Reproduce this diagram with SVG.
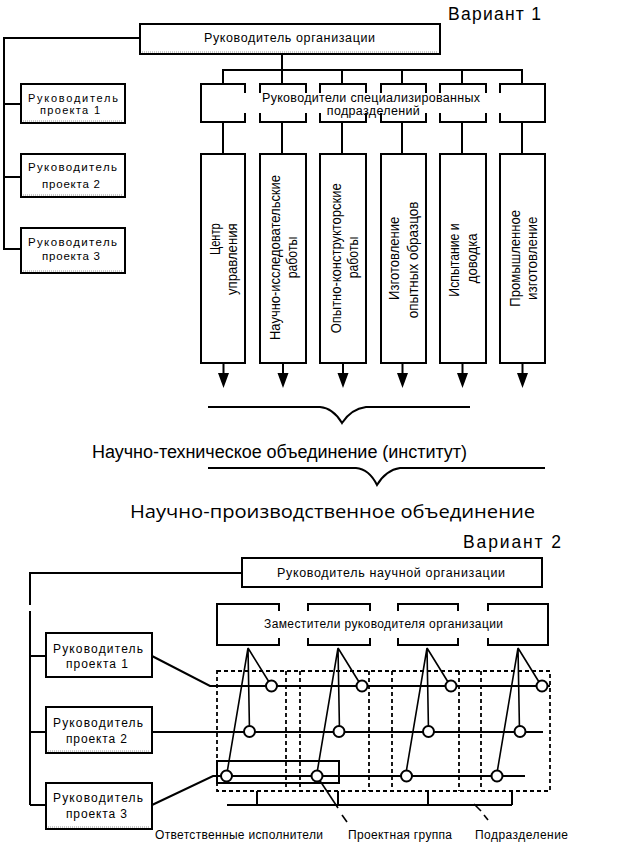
<svg xmlns="http://www.w3.org/2000/svg" width="639" height="859" viewBox="0 0 639 859">
<defs>
<style>
.b{fill:none;stroke:#000;stroke-width:2}
.box{fill:#fff;stroke:#000;stroke-width:2}
.ln{fill:none;stroke:#000;stroke-width:2}
.th{fill:none;stroke:#000;stroke-width:1.6}
.ds{fill:none;stroke:#000;stroke-width:1.8;stroke-dasharray:4 3}
.dot{fill:none;stroke:#999;stroke-width:1;stroke-dasharray:1 1}
.c{fill:#fff;stroke:#000;stroke-width:2}
.ar{fill:#000}
text{font-family:"Liberation Sans",Arial,sans-serif;fill:#000}
.m{text-anchor:middle}
.f11{font-size:11px}
.f12{font-size:12px}
.f125{font-size:12.5px}
.f115{font-size:11.5px}
.f13{font-size:12.5px}
.f15{font-size:15px}
.h{font-size:17.5px}
.big{font-size:18px}
.os{font-family:"Open Sans","Liberation Sans",sans-serif;font-size:18.5px}
</style>
</defs>
<rect width="639" height="859" fill="#fff"/>

<!-- ===== Variant 1 ===== -->
<text class="h" x="448" y="20" textLength="93">Вариант 1</text>

<g id="connectors">
  <!-- v1 -->
  <polyline class="ln" points="140,38 4,38 4,249 21,249"/>
  <line class="ln" x1="4" y1="104" x2="21" y2="104"/>
  <line class="ln" x1="4" y1="177" x2="21" y2="177"/>
  <line class="ln" x1="282" y1="54" x2="282" y2="70"/>
  <line class="ln" x1="222" y1="70" x2="523" y2="70"/>
  <path class="ln" d="M223,70V84M282,70V84M342,70V84M402,70V84M462,70V84M522,70V84"/>
  <path class="ln" d="M223,122V154M282,122V154M342,122V154M402,122V154M462,122V154M522,122V154"/>
  <path class="ln" d="M223.5,363V374M283,363V374M343,363V374M402.5,363V374M462.5,363V374M522.5,363V374"/>
  <path class="ar" d="M218,373H229L223.5,388ZM277.5,373H288.5L283,388ZM337.5,373H348.5L343,388ZM397,373H408L402.5,388ZM457,373H468L462.5,388ZM517,373H528L522.5,388Z"/>
  <!-- braces -->
  <path class="ln" d="M208,407H320Q333,408 342,423Q351,409 366,407H470"/>
  <path class="ln" d="M208,468H356Q369,469 377,485Q386,470 400,468H545"/>
  <!-- v2 -->
  <polyline class="ln" points="242,573 30,573 30,605"/>
  <line class="ln" x1="30" y1="611" x2="30" y2="805"/>
  <line class="ln" x1="30" y1="656" x2="46" y2="656"/>
  <line class="ln" x1="30" y1="732" x2="46" y2="732"/>
  <line class="ln" x1="30" y1="805" x2="46" y2="805"/>
  <polyline class="ln" points="152,656 210,686 550,686"/>
  <line class="ln" x1="152" y1="732" x2="543" y2="732"/>
  <polyline class="ln" points="152,805 213,776 525,776"/>
  <!-- deputy lines -->
  <path class="th" d="M248,648L271.5,686M248,648L249.5,731.5M248,648L226.5,776"/>
  <path class="th" d="M338,648L361.5,686M338,648L339.5,731.5M338,648L316.5,776"/>
  <path class="th" d="M427,648L450.5,686M427,648L428.5,731.5M427,648L405.5,776"/>
  <path class="th" d="M518,648L541.5,686M518,648L519.5,731.5M518,648L496.5,776"/>
  <!-- bottom bracket -->
  <path class="ln" d="M227,805H512M257,791V805M338,791V805M428,791V805M512,791V805"/>
  <!-- pointers -->
  <line class="th" x1="319.5" y1="780" x2="338" y2="808"/>
  <line class="th" x1="342" y1="815" x2="347" y2="822"/>
  <line class="th" x1="474" y1="804" x2="481" y2="811"/>
  <line class="th" x1="484" y1="815" x2="488" y2="820"/>
</g>

<g id="org-head-1">
  <rect class="box" x="140" y="24" width="300" height="30"/>
  <line class="dot" x1="142" y1="52" x2="438" y2="52"/>
  <text class="f125 m" x="289.5" y="42" textLength="171">Руководитель организации</text>
</g>

<g id="proj1-v1">
  <rect class="box" x="21" y="84" width="104" height="39"/>
  <line class="dot" x1="23" y1="121" x2="123" y2="121"/>
  <text class="f11 m" x="73" y="101.5" textLength="90">Руководитель</text>
  <text class="f11 m" x="70" y="113.5" textLength="60">проекта 1</text>
</g>
<g id="proj2-v1">
  <rect class="box" x="21" y="154" width="104" height="43"/>
  <line class="dot" x1="23" y1="195" x2="123" y2="195"/>
  <text class="f115 m" x="72.5" y="171" textLength="89">Руководитель</text>
  <text class="f115 m" x="71" y="188" textLength="58">проекта 2</text>
</g>
<g id="proj3-v1">
  <rect class="box" x="21" y="228" width="104" height="45"/>
  <line class="dot" x1="23" y1="271" x2="123" y2="271"/>
  <text class="f115 m" x="72.5" y="246" textLength="89">Руководитель</text>
  <text class="f115 m" x="71" y="260" textLength="58">проекта 3</text>
</g>

<g id="spec-heads">
  <path class="b" d="M245,93V84H201V122H245V113"/>
  <path class="b" d="M260,93V84H306V93M260,113V122H306V113"/>
  <path class="b" d="M320,93V84H366V93M320,113V122H366V113"/>
  <path class="b" d="M381,93V84H426V93M381,113V122H426V113"/>
  <path class="b" d="M440,93V84H486V93M440,113V122H486V113"/>
  <path class="b" d="M500,93V84H545V122H500V113"/>
  <text class="f13 m" x="371" y="102" textLength="218">Руководители специализированных</text>
  <text class="f13 m" x="373.3" y="114.5" textLength="93">подразделений</text>
</g>

<g id="col1">
  <rect class="box" x="201" y="154" width="44" height="209"/>
  <text class="f15 m" transform="translate(220,239.2) rotate(-90)" textLength="31.7" lengthAdjust="spacingAndGlyphs">Центр</text>
  <text class="f15 m" transform="translate(237,259.2) rotate(-90)" textLength="71.7" lengthAdjust="spacingAndGlyphs">управления</text>
</g>
<g id="col2">
  <rect class="box" x="260" y="154" width="46" height="209"/>
  <text class="f15 m" transform="translate(280,257.5) rotate(-90)" textLength="165" lengthAdjust="spacingAndGlyphs">Научно-исследовательские</text>
  <text class="f15 m" transform="translate(297,257.5) rotate(-90)" textLength="41.7" lengthAdjust="spacingAndGlyphs">работы</text>
</g>
<g id="col3">
  <rect class="box" x="320" y="154" width="46" height="209"/>
  <text class="f15 m" transform="translate(341,258.3) rotate(-90)" textLength="150" lengthAdjust="spacingAndGlyphs">Опытно-конструкторские</text>
  <text class="f15 m" transform="translate(358,257.5) rotate(-90)" textLength="41.7" lengthAdjust="spacingAndGlyphs">работы</text>
</g>
<g id="col4">
  <rect class="box" x="381" y="154" width="45" height="209"/>
  <text class="f15 m" transform="translate(399,258.3) rotate(-90)" textLength="83.3" lengthAdjust="spacingAndGlyphs">Изготовление</text>
  <text class="f15 m" transform="translate(417.5,260) rotate(-90)" textLength="116.7" lengthAdjust="spacingAndGlyphs">опытных образцов</text>
</g>
<g id="col5">
  <rect class="box" x="440" y="154" width="46" height="209"/>
  <text class="f15 m" transform="translate(459,260) rotate(-90)" textLength="73.3" lengthAdjust="spacingAndGlyphs">Испытание и</text>
  <text class="f15 m" transform="translate(477,258.3) rotate(-90)" textLength="50" lengthAdjust="spacingAndGlyphs">доводка</text>
</g>
<g id="col6">
  <rect class="box" x="500" y="154" width="45" height="209"/>
  <text class="f15 m" transform="translate(519.5,258.3) rotate(-90)" textLength="96.7" lengthAdjust="spacingAndGlyphs">Промышленное</text>
  <text class="f15 m" transform="translate(536.5,258.3) rotate(-90)" textLength="83.3" lengthAdjust="spacingAndGlyphs">изготовление</text>
</g>

<text class="big" x="92" y="458" textLength="375">Научно-техническое объединение (институт)</text>
<text class="os" x="130" y="518" textLength="405" lengthAdjust="spacingAndGlyphs">Научно-производственное объединение</text>

<!-- ===== Variant 2 ===== -->
<text class="h" x="463" y="548" textLength="98">Вариант 2</text>

<g id="org-head-2">
  <rect class="box" x="242" y="558" width="300" height="29"/>
  <text class="f125 m" x="391" y="577" textLength="228">Руководитель научной организации</text>
</g>

<g id="deputies">
  <path class="b" d="M279,611V604H217V645H279V638"/>
  <path class="b" d="M308,611V604H370V611M308,638V645H370V638"/>
  <path class="b" d="M398,611V604H458V611M398,638V645H458V638"/>
  <path class="b" d="M488,611V604H548V645H488V638"/>
  <text class="f12 m" x="383.5" y="628" textLength="239">Заместители руководителя организации</text>
</g>

<g id="proj1-v2">
  <rect class="box" x="46" y="633" width="106" height="44"/>
  <text class="f12 m" x="98" y="652.5" textLength="90">Руководитель</text>
  <text class="f12 m" x="97" y="668" textLength="62">проекта 1</text>
</g>
<g id="proj2-v2">
  <rect class="box" x="46" y="707" width="106" height="46"/>
  <line class="dot" x1="48" y1="751" x2="150" y2="751"/>
  <text class="f12 m" x="98" y="727" textLength="90">Руководитель</text>
  <text class="f12 m" x="96.5" y="743" textLength="61">проекта 2</text>
</g>
<g id="proj3-v2">
  <rect class="box" x="46" y="783" width="106" height="46"/>
  <line class="dot" x1="48" y1="827" x2="150" y2="827"/>
  <text class="f12 m" x="98" y="802" textLength="90">Руководитель</text>
  <text class="f12 m" x="96.5" y="818" textLength="61">проекта 3</text>
</g>

<g id="divisions">
  <rect class="ds" x="217" y="671" width="333" height="120"/>
  <path class="ds" d="M286,671V791M300,671V791M369,671V791M392,671V791M459,671V791M481,671V791"/>
</g>

<g id="resp-executors">
  <rect class="b" x="217" y="761" width="122" height="22"/>
</g>

<g id="executors">
  <circle class="c" cx="271.5" cy="686" r="5.5"/>
  <circle class="c" cx="362" cy="686" r="5.5"/>
  <circle class="c" cx="451" cy="686" r="5.5"/>
  <circle class="c" cx="542" cy="686" r="5.5"/>
  <circle class="c" cx="249.5" cy="731.5" r="5.5"/>
  <circle class="c" cx="339" cy="731.5" r="5.5"/>
  <circle class="c" cx="428.5" cy="731.5" r="5.5"/>
  <circle class="c" cx="520" cy="731.5" r="5.5"/>
  <circle class="c" cx="226.5" cy="776" r="5.5"/>
  <circle class="c" cx="317" cy="776" r="5.5"/>
  <circle class="c" cx="406.5" cy="776" r="5.5"/>
  <circle class="c" cx="497" cy="776" r="5.5"/>
</g>

<g id="labels">
  <text class="f12 m" x="239" y="839" textLength="168">Ответственные исполнители</text>
  <text class="f12 m" x="400" y="839" textLength="104">Проектная группа</text>
  <text class="f12 m" x="521.5" y="839" textLength="93">Подразделение</text>
</g>
</svg>
